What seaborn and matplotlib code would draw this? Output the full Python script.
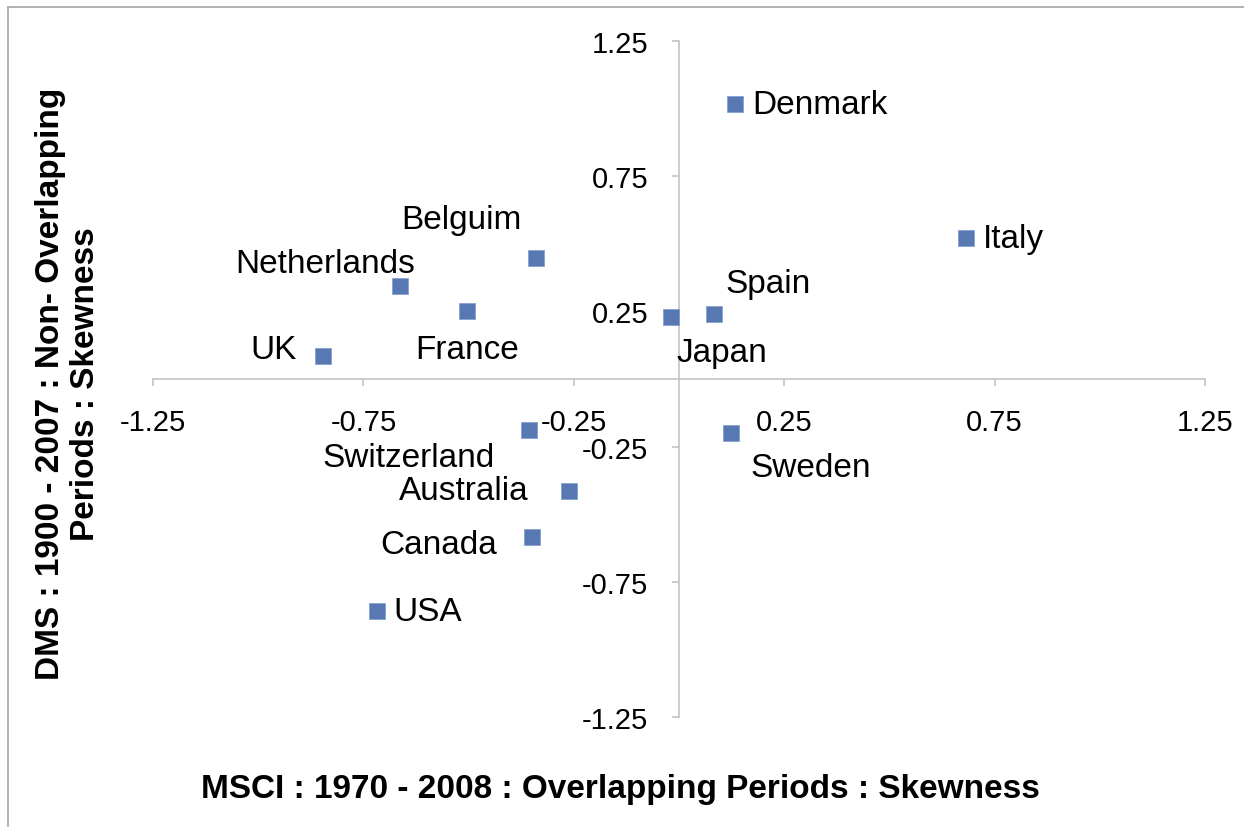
import pandas as pd
import matplotlib.pyplot as plt
import seaborn as sns
from matplotlib.lines import Line2D

countries = ['Denmark', 'Italy', 'Spain', 'Japan', 'Belguim', 'Netherlands', 'France',
             'UK', 'Switzerland', 'Sweden', 'Australia', 'Canada', 'USA']
msci = [0.133, 0.682, 0.083, -0.019, -0.340, -0.663, -0.504,
        -0.846, -0.356, 0.124, -0.261, -0.349, -0.718]
dms = [1.017, 0.521, 0.240, 0.229, 0.447, 0.344, 0.251,
       0.085, -0.189, -0.200, -0.414, -0.584, -0.858]
ticks = [-1.25, -0.75, -0.25, 0.25, 0.75, 1.25]

df = pd.DataFrame({'country': countries, 'msci': msci, 'dms': dms})

# label placement (pixel offsets from marker, y down), alignment
label_pos = {
    'Denmark': (17, 0, 'left'), 'Italy': (17, 0, 'left'), 'Spain': (12, -31, 'left'),
    'Japan': (5, 35, 'left'), 'Belguim': (-14, -39, 'right'), 'Netherlands': (15, -22, 'right'),
    'France': (0, 38, 'center'), 'UK': (-26, -7, 'right'), 'Switzerland': (-34, 27, 'right'),
    'Sweden': (19, 34, 'left'), 'Australia': (-41, 0, 'right'), 'Canada': (-35, 8, 'right'),
    'USA': (17, 0, 'left'),
}

sns.set_style('white')
plt.rcParams['font.family'] = ['Liberation Sans', 'DejaVu Sans']
plt.rcParams['text.color'] = 'black'
plt.rcParams['xtick.labelcolor'] = 'black'
plt.rcParams['ytick.labelcolor'] = 'black'

fig = plt.figure(figsize=(12.44, 8.28), dpi=100)
ax = fig.add_axes([153 / 1244, 1 - 718 / 828, 1052 / 1244, 676 / 828])

sns.scatterplot(data=df, x='msci', y='dms', marker='s', s=125, color='#5878B4',
                edgecolor='#7F9CCB', linewidth=0.5, ax=ax, zorder=3)

for _, r in df.iterrows():
    dx, dy, ha = label_pos[r['country']]
    ax.annotate(r['country'], (r['msci'], r['dms']), xytext=(dx * 0.72, -dy * 0.72),
                textcoords='offset points', ha=ha, va='center', fontsize=24, color='black')

ax.set_xlim(-1.25, 1.25)
ax.set_ylim(-1.25, 1.25)
ax.set_xticks(ticks)
ax.set_yticks(ticks)
ax.set_xticklabels([f'{t:.2f}' for t in ticks])
ax.set_yticklabels([f'{t:.2f}' for t in ticks])
ax.spines['left'].set_position(('data', 0))
ax.spines['bottom'].set_position(('data', 0))
ax.spines['top'].set_visible(False)
ax.spines['right'].set_visible(False)
for s in ['left', 'bottom']:
    ax.spines[s].set_color('#BFBFBF')
    ax.spines[s].set_linewidth(1.1)
ax.tick_params(axis='x', direction='out', length=5, width=1.1, color='#BFBFBF',
               labelsize=21, pad=16, bottom=True, labelcolor='black')
ax.tick_params(axis='y', direction='out', length=5, width=1.1, color='#BFBFBF',
               labelsize=21, pad=17, left=True, labelcolor='black')
ax.set_xlabel('')
ax.set_ylabel('')
ax.set_facecolor('none')

fig.text(620 / 1244, 1 - 790 / 828, 'MSCI : 1970 - 2008 : Overlapping Periods : Skewness',
         ha='center', va='center', fontsize=24, fontweight='bold', color='black')
fig.text(68 / 1244, 1 - 384 / 828, 'DMS : 1900 - 2007 : Non- Overlapping\nPeriods : Skewness',
         ha='center', va='center', rotation=90, fontsize=24, fontweight='bold',
         multialignment='center', linespacing=1.2, color='black')

# chart-area border (only left and top edges are visible in the original)
fig.lines.append(Line2D([8 / 1244, 8 / 1244], [0, 1 - 8 / 828], transform=fig.transFigure,
                        color='#A6A6A6', linewidth=1.2))
fig.lines.append(Line2D([8 / 1244, 1], [1 - 8 / 828, 1 - 8 / 828], transform=fig.transFigure,
                        color='#A6A6A6', linewidth=1.2))

plt.savefig('out.png', dpi=100)
